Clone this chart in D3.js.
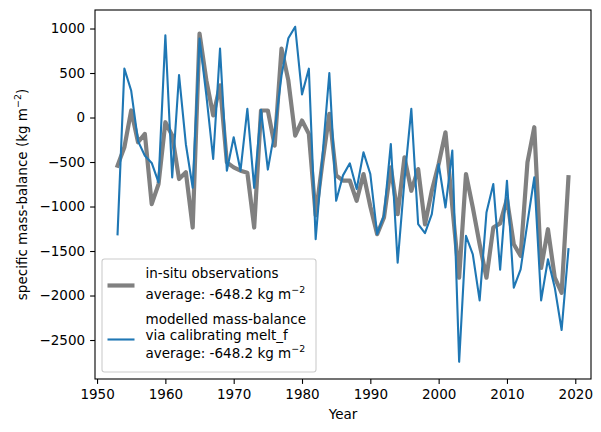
<!DOCTYPE html>
<html><head><meta charset="utf-8">
<script src="https://cdn.jsdelivr.net/npm/d3@7"></script>
<style>body{margin:0;background:#fff} text{font-family:"DejaVu Sans",sans-serif}</style>
</head><body><svg id="c" width="601" height="432"></svg>
<script>
const years = [1953,1954,1955,1956,1957,1958,1959,1960,1961,1962,1963,1964,1965,1966,1967,1968,1969,1970,1971,1972,1973,1974,1975,1976,1977,1978,1979,1980,1981,1982,1983,1984,1985,1986,1987,1988,1989,1990,1991,1992,1993,1994,1995,1996,1997,1998,1999,2000,2001,2002,2003,2004,2005,2006,2007,2008,2009,2010,2011,2012,2013,2014,2015,2016,2017,2018,2019];
const observed = [-541,-335,79,-278,-184,-973,-748,-53,-203,-691,-616,-1236,943,417,23,361,-504,-560,-598,-620,-1236,79,79,-316,774,417,-203,-34,-184,-1100,-500,41,-650,-710,-710,-936,-635,-1000,-1311,-1124,-560,-1086,-447,-823,-579,-1200,-823,-522,-166,-1000,-1800,-635,-1011,-1424,-1800,-1236,-1190,-917,-1424,-1556,-504,-109,-1691,-1255,-1800,-1969,-670];
const modelled = [-1312,549,300,-265,-430,-510,-729,924,-673,478,-300,-789,887,250,-466,774,-598,-222,-598,98,-790,88,-585,-150,470,890,1020,260,549,-1367,-430,500,-936,-650,-515,-804,-391,-635,-1311,-1100,-297,-1631,-700,98,-1199,-1300,-1086,-522,-1011,-372,-2745,-1330,-1537,-2055,-1067,-748,-1710,-710,-1912,-1706,-1180,-673,-2055,-1593,-1912,-2387,-1480];
const xTicks = [1950,1960,1970,1980,1990,2000,2010,2020];
const yTicks = [-2500,-2000,-1500,-1000,-500,0,500,1000];
const obsLabel = ["in-situ observations", "average: -648.2 kg m"];
const modLabel = ["modelled mass-balance", "via calibrating melt_f", "average: -648.2 kg m"];
const yLabel = "specific mass-balance (kg m";
const xLabel = "Year";

const L=95, R=591, T=10, B=379, FS=13.5;
const svg = d3.select("#c");
const x = d3.scaleLinear().domain([1949.7, 2022.3]).range([L, R]);
const y = d3.scaleLinear().domain([-2938, 1208]).range([B, T]);
const fmt = d => d < 0 ? "\u2212" + Math.abs(d) : String(d);

// axes
const gx = svg.append("g").attr("transform", `translate(0,${B})`)
  .call(d3.axisBottom(x).tickValues(xTicks).tickFormat(d3.format("d")).tickSize(4.9).tickPadding(5.5));
const gy = svg.append("g").attr("transform", `translate(${L},0)`)
  .call(d3.axisLeft(y).tickValues(yTicks).tickFormat(fmt).tickSize(4.9).tickPadding(5));
[gx, gy].forEach(g => {
  g.select(".domain").remove();
  g.selectAll("line").attr("stroke", "#000").attr("stroke-width", 1.1);
  g.selectAll("text").attr("fill", "#000").attr("font-size", FS).attr("font-family", "DejaVu Sans");
});

// lines
const line = vals => d3.line().x((d, i) => x(years[i])).y(d => y(d))(vals);
svg.append("path").attr("d", line(observed)).attr("fill", "none").attr("stroke", "#808080").attr("stroke-width", 4.2).attr("stroke-linejoin", "round").attr("stroke-linecap", "square");
svg.append("path").attr("d", line(modelled)).attr("fill", "none").attr("stroke", "#1f77b4").attr("stroke-width", 2.1).attr("stroke-linejoin", "round").attr("stroke-linecap", "square");

// frame
svg.append("rect").attr("x", L).attr("y", T).attr("width", R - L).attr("height", B - T)
  .attr("fill", "none").attr("stroke", "#000").attr("stroke-width", 1.1);

// labels
svg.append("text").attr("x", (L + R) / 2).attr("y", 418.5).attr("text-anchor", "middle")
  .attr("font-size", FS).text(xLabel);
const yl = svg.append("text").attr("transform", `translate(27,${(T + B) / 2}) rotate(-90)`)
  .attr("text-anchor", "middle").attr("font-size", FS);
yl.append("tspan").text(yLabel);
yl.append("tspan").attr("font-size", FS * 0.7).attr("dy", -6).text("\u22122");
yl.append("tspan").attr("dy", 6).text(")");

// legend
const lg = svg.append("g");
lg.append("rect").attr("x", 102).attr("y", 259).attr("width", 214).attr("height", 113)
  .attr("rx", 2.5).attr("fill", "#fff").attr("fill-opacity", 0.8).attr("stroke", "#cccccc").attr("stroke-width", 1.1);
lg.append("line").attr("x1", 107.5).attr("x2", 134.5).attr("y1", 285.5).attr("y2", 285.5)
  .attr("stroke", "#808080").attr("stroke-width", 4.2);
lg.append("line").attr("x1", 107.5).attr("x2", 134.5).attr("y1", 339.5).attr("y2", 339.5)
  .attr("stroke", "#1f77b4").attr("stroke-width", 2.1);
const addText = (str, yy, sup) => {
  const t = lg.append("text").attr("x", 145.5).attr("y", yy).attr("font-size", FS);
  t.append("tspan").text(str);
  if (sup) t.append("tspan").attr("font-size", FS * 0.7).attr("dy", -6).text("\u22122");
};
addText(obsLabel[0], 277.5, false);
addText(obsLabel[1], 298.5, true);
addText(modLabel[0], 323.5, false);
addText(modLabel[1], 339.5, false);
addText(modLabel[2], 357.5, true);
</script></body></html>
